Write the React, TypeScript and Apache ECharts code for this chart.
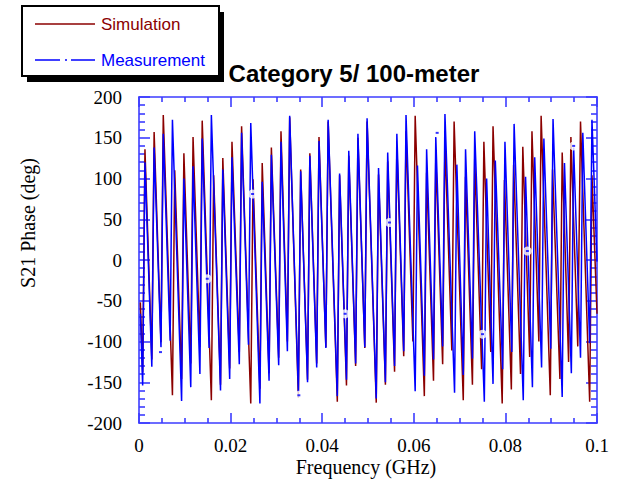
import React, { useEffect, useRef } from "react";
import * as echarts from "echarts";

// Simulation (dark red) – vertices [frequency GHz, phase deg]
const simulation: [number, number][] = [
  [0.0003, -52],
  [0.0008, -138], [0.0013, 136],
  [0.0028, -122], [0.0033, 157],
  [0.0048, -101], [0.0053, 178],
  [0.0073, -166], [0.0078, 110],
  [0.0093, -146], [0.0098, 131],
  [0.0113, -127], [0.0118, 151],
  [0.0133, -107], [0.0138, 171],
  [0.0158, -172], [0.0163, 104],
  [0.0178, -153], [0.0183, 125],
  [0.0198, -133], [0.0203, 145],
  [0.0219, -113], [0.0224, 164],
  [0.0244, -176], [0.0249, 99],
  [0.0264, -158], [0.0269, 119],
  [0.0284, -139], [0.0289, 138],
  [0.0305, -120], [0.031, 158],
  [0.0324, -100], [0.0329, 175],
  [0.0348, -169], [0.0353, 111],
  [0.0368, -147], [0.0373, 131],
  [0.0388, -127], [0.0393, 151],
  [0.0408, -107], [0.0413, 170],
  [0.0433, -174], [0.0438, 104],
  [0.0453, -154], [0.0458, 128],
  [0.0473, -130], [0.0478, 150],
  [0.0493, -108], [0.0498, 170],
  [0.0518, -175], [0.0523, 105],
  [0.0538, -153], [0.0543, 121],
  [0.0558, -137], [0.0563, 140],
  [0.0578, -118], [0.0583, 158],
  [0.0598, -100], [0.0603, 177],
  [0.0623, -167], [0.0628, 107],
  [0.0643, -148], [0.0648, 127],
  [0.0663, -128], [0.0668, 147],
  [0.0683, -111], [0.0688, 170],
  [0.0708, -172], [0.0713, 102],
  [0.0728, -153], [0.0733, 124],
  [0.0748, -134], [0.0753, 145],
  [0.0768, -113], [0.0773, 164],
  [0.0793, -176], [0.0798, 98],
  [0.0813, -159], [0.0818, 117],
  [0.0833, -140], [0.0838, 139],
  [0.0853, -119], [0.0858, 158],
  [0.0873, -100], [0.0878, 177],
  [0.0898, -166], [0.0903, 111],
  [0.0919, -146], [0.0924, 132],
  [0.0938, -125], [0.0943, 151],
  [0.0958, -106], [0.0964, 170],
  [0.0984, -174], [0.0989, 104],
  [0.1, -66],
];

// Measurement (blue) – vertices [frequency GHz, phase deg]
const measurement: [number, number][] = [
  [0.0003, -66],
  [0.0008, -154], [0.0013, 120],
  [0.0028, -131], [0.0033, 138],
  [0.0048, -107], [0.0053, 155],
  [0.0068, -99], [0.0073, 172],
  [0.0093, -173], [0.0098, 100],
  [0.0113, -156], [0.0118, 115],
  [0.0133, -140], [0.0138, 149],
  [0.0153, -108], [0.0158, 178],
  [0.0178, -160], [0.0183, 111],
  [0.0198, -146], [0.0203, 126],
  [0.0219, -128], [0.0224, 156],
  [0.0239, -104], [0.0244, 168],
  [0.0264, -176], [0.0269, 96],
  [0.0284, -148], [0.0289, 129],
  [0.0305, -129], [0.031, 145],
  [0.0324, -112], [0.0329, 177],
  [0.0348, -162], [0.0353, 109],
  [0.0368, -150], [0.0373, 128],
  [0.0388, -132], [0.0393, 146],
  [0.0408, -108], [0.0413, 172],
  [0.0433, -167], [0.0438, 106],
  [0.0453, -147], [0.0458, 134],
  [0.0473, -127], [0.0478, 155],
  [0.0493, -107], [0.0498, 174],
  [0.0518, -170], [0.0523, 113],
  [0.0538, -150], [0.0543, 132],
  [0.0558, -130], [0.0563, 155],
  [0.0578, -112], [0.0583, 178],
  [0.0603, -161], [0.0608, 116],
  [0.0623, -142], [0.0628, 136],
  [0.0643, -122], [0.0648, 151],
  [0.0663, -106], [0.0668, 179],
  [0.0689, -163], [0.0694, 117],
  [0.0708, -141], [0.0713, 136],
  [0.0728, -121], [0.0733, 158],
  [0.0754, -174], [0.0759, 100],
  [0.0773, -152], [0.0778, 122],
  [0.0794, -134], [0.0799, 145],
  [0.0814, -113], [0.0819, 167],
  [0.0839, -172], [0.0844, 102],
  [0.0859, -156], [0.0864, 126],
  [0.0879, -132], [0.0884, 149],
  [0.0899, -109], [0.0904, 173],
  [0.0924, -168], [0.0929, 119],
  [0.0944, -139], [0.0949, 138],
  [0.0964, -120], [0.0969, 156],
  [0.0984, -102], [0.0989, 172],
  [0.1, -2],
];

// dash-dot "dot" positions drawn on the measurement trace
const markerFreq = [0.0047, 0.0149, 0.0248, 0.0349, 0.045, 0.0547, 0.0651, 0.075, 0.0848, 0.0949];
const markerPhase = [-113, -23, 81, -166, -66, 46, 156, -91, 11, 140];

const xMin = 0;
const xMax = 0.1;
const xStep = 0.02;
const yMin = -200;
const yMax = 200;
const yStep = 50;

const AX = "#3c3cff";
const RED = "#8b0000";
const BLUE = "#0000ff";
const SERIF = '"Liberation Serif", "Times New Roman", serif';
const SANS = '"Liberation Sans", Arial, sans-serif';

export default function App() {
  const ref = useRef<HTMLDivElement>(null);
  useEffect(() => {
    const chart = echarts.init(ref.current!, undefined, { renderer: "svg" });
    const markers = markerFreq.map((f, i) => [f, markerPhase[i]]);
    const axisCommon = {
      type: "value",
      axisLine: { show: true, onZero: false, lineStyle: { color: AX, width: 1.6 } },
      splitLine: { show: false },
      minorSplitLine: { show: false },
    };
    chart.setOption({
      animation: false,
      backgroundColor: "#fff",
      grid: { left: 139, right: 21, top: 97, bottom: 57, containLabel: false },
      xAxis: [
        {
          ...axisCommon,
          position: "bottom",
          min: xMin,
          max: xMax,
          interval: xStep,
          axisTick: { show: true, inside: true, length: 10, lineStyle: { color: AX, width: 1.6 } },
          minorTick: { show: true, splitNumber: 4, length: 5, lineStyle: { color: AX, width: 1.6 } },
          axisLabel: {
            show: true,
            margin: 13,
            color: "#000",
            fontSize: 19,
            fontFamily: SERIF,
            formatter: (v: number) => (v === 0 ? "0" : String(parseFloat(v.toFixed(2)))),
          },
        },
        {
          ...axisCommon,
          position: "top",
          min: xMin,
          max: xMax,
          interval: xStep,
          axisTick: { show: true, inside: true, length: 10, lineStyle: { color: AX, width: 1.6 } },
          minorTick: { show: true, splitNumber: 4, length: 5, lineStyle: { color: AX, width: 1.6 } },
          axisLabel: { show: false },
        },
      ],
      yAxis: [
        {
          ...axisCommon,
          position: "left",
          min: yMin,
          max: yMax,
          interval: yStep,
          axisTick: { show: true, inside: true, length: 11, lineStyle: { color: AX, width: 1.6 } },
          minorTick: { show: true, splitNumber: 5, length: 6, lineStyle: { color: AX, width: 1.6 } },
          axisLabel: { show: true, margin: 17, color: "#000", fontSize: 19, fontFamily: SERIF },
        },
        {
          ...axisCommon,
          position: "right",
          min: yMin,
          max: yMax,
          interval: yStep,
          axisTick: { show: true, inside: true, length: 11, lineStyle: { color: AX, width: 1.6 } },
          minorTick: { show: true, splitNumber: 5, length: 6, lineStyle: { color: AX, width: 1.6 } },
          axisLabel: { show: false },
        },
      ],
      series: [
        {
          name: "Simulation",
          type: "line",
          xAxisIndex: 0,
          yAxisIndex: 0,
          data: simulation,
          symbol: "none",
          silent: true,
          lineStyle: { color: RED, width: 1.5 },
          z: 2,
        },
        {
          name: "Measurement",
          type: "line",
          xAxisIndex: 0,
          yAxisIndex: 0,
          data: measurement,
          symbol: "none",
          silent: true,
          lineStyle: { color: BLUE, width: 1.5 },
          z: 3,
        },
        {
          type: "scatter",
          xAxisIndex: 0,
          yAxisIndex: 0,
          data: markers,
          symbol: "circle",
          symbolSize: 9,
          silent: true,
          itemStyle: { color: "#fff" },
          z: 4,
        },
        {
          type: "scatter",
          xAxisIndex: 0,
          yAxisIndex: 0,
          data: markers,
          symbol: "rect",
          symbolSize: [3, 2],
          silent: true,
          itemStyle: { color: BLUE },
          z: 5,
        },
      ],
      graphic: [
        { type: "rect", z: 100, shape: { x: 27, y: 12, width: 197, height: 70 }, style: { fill: "#000" } },
        {
          type: "rect",
          z: 101,
          shape: { x: 22, y: 6, width: 197, height: 70 },
          style: { fill: "#fff", stroke: "#000", lineWidth: 2 },
        },
        { type: "line", z: 102, shape: { x1: 35, y1: 24, x2: 95, y2: 24 }, style: { stroke: RED, lineWidth: 1.5 } },
        {
          type: "text",
          z: 102,
          x: 101,
          y: 24,
          style: { text: "Simulation", fill: RED, font: `17px ${SANS}`, verticalAlign: "middle", textVerticalAlign: "middle" },
        },
        { type: "line", z: 102, shape: { x1: 35, y1: 60, x2: 60, y2: 60 }, style: { stroke: BLUE, lineWidth: 1.5 } },
        { type: "line", z: 102, shape: { x1: 65, y1: 60, x2: 67, y2: 60 }, style: { stroke: BLUE, lineWidth: 1.5 } },
        { type: "line", z: 102, shape: { x1: 71, y1: 60, x2: 95, y2: 60 }, style: { stroke: BLUE, lineWidth: 1.5 } },
        {
          type: "text",
          z: 102,
          x: 101,
          y: 60,
          style: { text: "Measurement", fill: BLUE, font: `17px ${SANS}`, verticalAlign: "middle", textVerticalAlign: "middle" },
        },
        {
          type: "text",
          z: 102,
          x: 354,
          y: 73,
          style: {
            text: "Category 5/ 100-meter",
            fill: "#000",
            font: `bold 24px ${SANS}`,
            align: "center",
            textAlign: "center",
            verticalAlign: "middle",
            textVerticalAlign: "middle",
          },
        },
        {
          type: "text",
          z: 102,
          x: 366,
          y: 467,
          style: {
            text: "Frequency (GHz)",
            fill: "#000",
            font: `20px ${SERIF}`,
            align: "center",
            textAlign: "center",
            verticalAlign: "middle",
            textVerticalAlign: "middle",
          },
        },
        {
          type: "text",
          z: 102,
          x: 28,
          y: 223,
          rotation: Math.PI / 2,
          style: {
            text: "S21 Phase (deg)",
            fill: "#000",
            font: `20px ${SERIF}`,
            align: "center",
            textAlign: "center",
            verticalAlign: "middle",
            textVerticalAlign: "middle",
          },
        },
      ],
    });
    return () => chart.dispose();
  }, []);
  return (
    <div
      ref={ref}
      style={{ position: "fixed", left: 0, top: 0, width: 618, height: 480, background: "#fff" }}
    />
  );
}
